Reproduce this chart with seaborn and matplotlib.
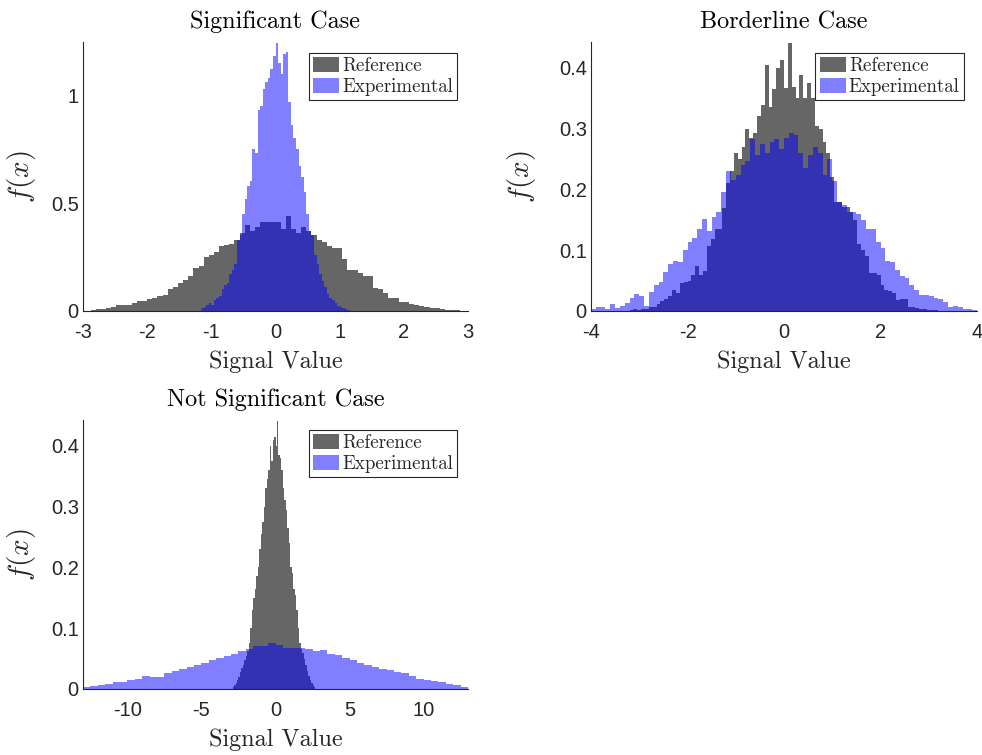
import numpy as np
import pandas as pd
import matplotlib
matplotlib.use("Agg")
import matplotlib.pyplot as plt
import seaborn as sns
from matplotlib.patches import Patch

# ---------------- data (bin heights, pdf-normalised) -------------
# Significant case
sig_ref_start, sig_ref_width = -2.88, 0.08
sig_ref = [0.005, 0.008, 0.010, 0.015, 0.020, 0.030, 0.030, 0.028, 0.035, 0.045,
           0.048, 0.055, 0.060, 0.070, 0.075, 0.100, 0.110, 0.130, 0.145, 0.160,
           0.200, 0.210, 0.250, 0.260, 0.275, 0.300, 0.305, 0.310, 0.330, 0.360,
           0.400, 0.370, 0.390, 0.410, 0.410, 0.410, 0.410, 0.380, 0.440, 0.380,
           0.360, 0.390, 0.370, 0.350, 0.330, 0.320, 0.300, 0.290, 0.290, 0.240,
           0.190, 0.190, 0.175, 0.160, 0.160, 0.105, 0.100, 0.085, 0.060, 0.060,
           0.043, 0.040, 0.033, 0.028, 0.025, 0.020, 0.012, 0.012, 0.008, 0.006,
           0.004, 0.003]
sig_exp_start, sig_exp_width = -1.16, 0.04
sig_exp = [0.015, 0.020, 0.030, 0.035, 0.030, 0.050, 0.060, 0.070, 0.100, 0.120,
           0.130, 0.170, 0.190, 0.220, 0.330, 0.350, 0.450, 0.520, 0.580, 0.600,
           0.750, 0.730, 0.930, 0.950, 1.030, 1.060, 1.080, 1.120, 1.180, 1.240,
           1.150, 1.100, 1.190, 1.200, 0.970, 0.860, 0.800, 0.750, 0.670, 0.620,
           0.550, 0.450, 0.370, 0.350, 0.260, 0.220, 0.170, 0.140, 0.110, 0.080,
           0.060, 0.050, 0.035, 0.025, 0.020, 0.012, 0.008, 0.005]

# Borderline case
bord_ref_start, bord_ref_width = -3.20, 0.08
bord_ref = [0.002, 0.003, 0.002, 0.004, 0.004, 0.006, 0.007, 0.012, 0.016, 0.020,
            0.024, 0.035, 0.030, 0.046, 0.047, 0.049, 0.060, 0.074, 0.060, 0.065,
            0.107, 0.118, 0.135, 0.135, 0.170, 0.210, 0.230, 0.260, 0.250, 0.270,
            0.300, 0.285, 0.293, 0.320, 0.338, 0.404, 0.335, 0.365, 0.400, 0.413,
            0.366, 0.440, 0.368, 0.350, 0.388, 0.350, 0.374, 0.350, 0.304, 0.300,
            0.277, 0.260, 0.220, 0.180, 0.180, 0.171, 0.171, 0.163, 0.149, 0.110,
            0.100, 0.090, 0.063, 0.063, 0.060, 0.043, 0.035, 0.033, 0.030, 0.018,
            0.020, 0.020, 0.007, 0.006, 0.005, 0.003, 0.003, 0.002, 0.001, 0.001]
bord_exp_start, bord_exp_width = -4.0, 0.1
bord_exp = [0.004, 0.006, 0.006, 0.003, 0.011, 0.005, 0.008, 0.013, 0.022, 0.028,
            0.025, 0.008, 0.032, 0.042, 0.047, 0.064, 0.077, 0.082, 0.080, 0.100,
            0.113, 0.120, 0.134, 0.152, 0.132, 0.154, 0.163, 0.195, 0.230, 0.215,
            0.224, 0.240, 0.246, 0.282, 0.257, 0.274, 0.260, 0.277, 0.282, 0.266,
            0.285, 0.293, 0.290, 0.260, 0.235, 0.257, 0.270, 0.260, 0.224, 0.250,
            0.213, 0.180, 0.174, 0.163, 0.163, 0.160, 0.149, 0.135, 0.135, 0.113,
            0.104, 0.082, 0.080, 0.068, 0.057, 0.055, 0.043, 0.035, 0.027, 0.027,
            0.024, 0.022, 0.020, 0.015, 0.007, 0.008, 0.006, 0.004, 0.003, 0.002]

# Not significant case
ns_ref_start, ns_ref_width = -2.9, 0.1
ns_ref = [0.004, 0.006, 0.010, 0.015, 0.020, 0.028, 0.035, 0.040, 0.048, 0.055,
          0.062, 0.075, 0.100, 0.130, 0.150, 0.165, 0.185, 0.200, 0.230, 0.255,
          0.275, 0.300, 0.330, 0.345, 0.360, 0.400, 0.375, 0.410, 0.415, 0.400,
          0.440, 0.385, 0.380, 0.360, 0.330, 0.310, 0.295, 0.265, 0.240, 0.200,
          0.190, 0.165, 0.155, 0.130, 0.100, 0.075, 0.065, 0.060, 0.050, 0.040,
          0.030, 0.022, 0.015, 0.010, 0.006, 0.003]
ns_exp_start, ns_exp_width = -13.0, 0.5
ns_exp = [0.004, 0.005, 0.006, 0.008, 0.011, 0.012, 0.015, 0.016, 0.021, 0.019,
          0.020, 0.027, 0.030, 0.033, 0.036, 0.040, 0.043, 0.047, 0.051, 0.055,
          0.058, 0.062, 0.065, 0.071, 0.070, 0.075, 0.072, 0.068, 0.068, 0.068,
          0.065, 0.062, 0.064, 0.058, 0.056, 0.051, 0.047, 0.043, 0.040, 0.036,
          0.033, 0.031, 0.028, 0.026, 0.022, 0.016, 0.014, 0.013, 0.011, 0.008,
          0.006, 0.004]

titles = ["Significant Case", "Borderline Case", "Not Significant Case"]
legend_labels = ["Reference", "Experimental"]
sig_xticks = [-3, -2, -1, 0, 1, 2, 3]
sig_yticks = [0, 0.5, 1]
sig_yticklabels = ["0", "0.5", "1"]
bord_xticks = [-4, -2, 0, 2, 4]
bord_yticks = [0, 0.1, 0.2, 0.3, 0.4]
bord_yticklabels = ["0", "0.1", "0.2", "0.3", "0.4"]
ns_xticks = [-10, -5, 0, 5, 10]
ns_yticks = [0, 0.1, 0.2, 0.3, 0.4]
ns_yticklabels = ["0", "0.1", "0.2", "0.3", "0.4"]

# ---------------- style -------------
sns.set_style("white")
plt.rcParams["font.family"] = ["Liberation Sans", "DejaVu Sans"]
plt.rcParams["mathtext.fontset"] = "cm"
plt.rcParams["axes.unicode_minus"] = False

REF_COLOR = "#666666"
EXP_COLOR = "#0000ff"
AX_COLOR = "#262626"
SERIF = "cmr10"

fig = plt.figure(figsize=(9.82, 7.55), dpi=100)
W, H = 982, 755


def add_axes(left, top, right, bottom):
    return fig.add_axes([left / W, 1 - bottom / H, (right - left) / W, (bottom - top) / H])


def hist_frame(vals, start, width):
    edges = start + width * np.arange(len(vals) + 1)
    df = pd.DataFrame({"x": edges[:-1] + width / 2, "w": np.asarray(vals, float)})
    return df, edges


def panel(ax, ref, ref_start, ref_w, exp, exp_start, exp_w, xlim, xticks,
          yticks, yticklabels, title, leg_anchor, ylab_x):
    ref_df, ref_edges = hist_frame(ref, ref_start, ref_w)
    exp_df, exp_edges = hist_frame(exp, exp_start, exp_w)
    sns.histplot(data=ref_df, x="x", weights="w", bins=list(ref_edges),
                 stat="count", element="step", fill=True, color=REF_COLOR,
                 alpha=1.0, linewidth=0, ax=ax)
    sns.histplot(data=exp_df, x="x", weights="w", bins=list(exp_edges),
                 stat="count", element="step", fill=True, color=EXP_COLOR,
                 alpha=0.5, linewidth=0, ax=ax)
    ax.set_xlim(*xlim)
    ax.set_ylim(0, max(max(ref), max(exp)) * 1.005)
    ax.set_xticks(xticks)
    ax.set_xticklabels([str(t) for t in xticks])
    ax.set_yticks(yticks)
    ax.set_yticklabels(yticklabels)
    for s in ["top", "right"]:
        ax.spines[s].set_visible(False)
    for s in ["left", "bottom"]:
        ax.spines[s].set_color(AX_COLOR)
        ax.spines[s].set_linewidth(0.8)
    ax.tick_params(axis="both", direction="in", length=3.5, width=0.7,
                   colors=AX_COLOR, labelsize=14.5)
    ax.tick_params(axis="x", pad=9)
    ax.tick_params(axis="y", pad=3)
    ax.set_title(title, fontfamily=SERIF, fontsize=17.4, pad=10, color="black")
    ax.set_xlabel("Signal Value", fontfamily=SERIF, fontsize=17.4, labelpad=5.5,
                  color="#262626")
    ax.set_ylabel(r"$f(x)$", fontsize=21, color="#262626")
    ax.yaxis.set_label_coords(ylab_x, 0.5)
    handles = [Patch(facecolor=REF_COLOR, edgecolor="none"),
               Patch(facecolor=EXP_COLOR, alpha=0.5, edgecolor="none")]
    leg = ax.legend(handles, legend_labels, loc="upper right",
                    bbox_to_anchor=leg_anchor, borderaxespad=0, frameon=True,
                    fancybox=False, framealpha=1, edgecolor=AX_COLOR,
                    prop={"family": SERIF, "size": 13.6}, handlelength=1.4,
                    handleheight=0.85, handletextpad=0.15, borderpad=0.22,
                    labelspacing=0.15)
    leg.get_frame().set_linewidth(0.8)


ax1 = add_axes(83, 42, 468, 311)
panel(ax1, sig_ref, sig_ref_start, sig_ref_width, sig_exp, sig_exp_start,
      sig_exp_width, (-3, 3), sig_xticks, sig_yticks, sig_yticklabels,
      titles[0], (0.972, 0.96), -0.117)

ax2 = add_axes(591, 42, 977, 311)
panel(ax2, bord_ref, bord_ref_start, bord_ref_width, bord_exp, bord_exp_start,
      bord_exp_width, (-4, 4), bord_xticks, bord_yticks, bord_yticklabels,
      titles[1], (0.966, 0.96), -0.137)

ax3 = add_axes(83, 420, 468, 689)
panel(ax3, ns_ref, ns_ref_start, ns_ref_width, ns_exp, ns_exp_start,
      ns_exp_width, (-13, 13), ns_xticks, ns_yticks, ns_yticklabels,
      titles[2], (0.972, 0.963), -0.117)

fig.savefig("out.png", dpi=100)
